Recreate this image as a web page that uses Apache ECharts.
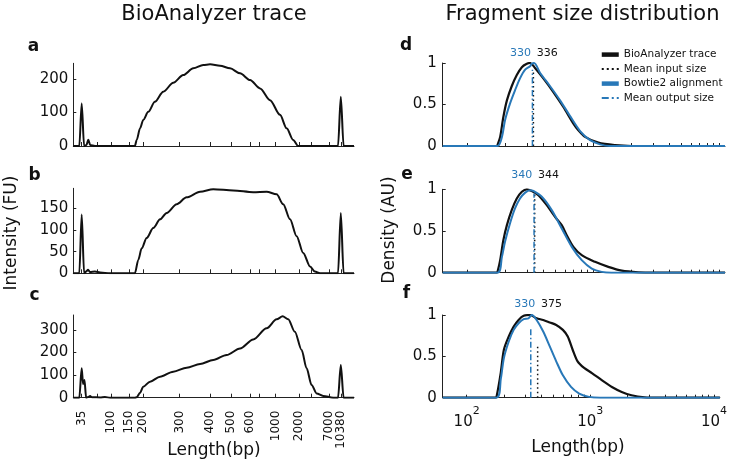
<!DOCTYPE html>
<html>
<head>
<meta charset="utf-8">
<script src="https://cdn.jsdelivr.net/npm/echarts@6/dist/echarts.min.js"></script>
<style>html,body{margin:0;padding:0;background:#fff}#c{width:730px;height:471px}</style>
</head>
<body>
<div id="c"></div>
<script>
// ---------------- DATA ----------------
// BioAnalyzer HS DNA ladder: fragment size (bp) and migration time (s)
const ladderSize = [35, 50, 100, 150, 200, 300, 400, 500, 600, 700, 1000, 2000, 3000, 7000, 10380];
const ladderTime = [42.1, 45.9, 49.4, 54.0, 57.4, 66.6, 74.2, 79.4, 84.2, 86.4, 90.6, 96.4, 99.6, 103.9, 106.9];
const labeledSizes = [35, 100, 150, 200, 300, 400, 500, 600, 1000, 2000, 7000, 10380];

// BioAnalyzer traces: [migration time (s), intensity (FU)]
const traceA = [[40.0,0],[41.5,0],[42.1,127],[42.7,0],[43.3,3],[43.75,19],[44.2,3],[45.4,0],[55.4,0],[55.85,18],[56.7,53],[57.5,78],[58.75,102],[60.4,132],[62.5,162],[65.0,189],[67.5,212],[70.0,232],[72.5,242],[74.2,244],[76.7,240],[79.2,232],[81.7,217],[84.2,197],[86.7,172],[89.2,137],[91.7,93],[93.35,53],[95.0,18],[96.25,0],[106.2,0],[106.9,147],[107.6,0],[110.2,0]];
const traceB = [[40.0,0],[41.5,0],[42.1,136],[42.7,0],[43.2,4],[43.7,8],[44.2,3],[45.4,4],[46.7,2],[49.2,0],[55.4,0],[56.25,31],[57.1,58],[58.35,82],[60.0,105],[61.7,125],[63.35,140],[65.85,160],[68.35,176],[71.7,189],[75.0,195],[80.0,192],[85.0,188],[88.35,189],[90.85,183],[92.5,160],[94.2,125],[95.85,86],[97.5,47],[99.2,16],[100.4,4],[101.7,0],[106.2,0],[106.9,140],[107.6,0],[110.2,0]];
const traceC = [[40.0,0],[41.5,0],[42.1,130],[42.45,60],[42.8,78],[43.2,0],[43.7,3],[44.2,7],[44.7,2],[46.7,1],[47.9,3],[49.2,0],[55.4,0],[55.85,2],[56.7,22],[57.5,49],[59.2,71],[61.7,93],[65.0,115],[68.35,133],[71.7,149],[75.0,167],[78.35,189],[81.7,218],[85.0,258],[88.35,307],[90.85,347],[92.35,360],[93.75,347],[95.4,292],[97.1,211],[98.35,130],[99.6,56],[100.85,19],[102.5,8],[105.0,0],[106.2,0],[106.9,145],[107.6,0],[110.2,0]];

// Fragment size densities: [length (bp), density (AU)]
const inputD = [[64,0],[172,0],[175,0.02],[183,0.11],[194,0.35],[207,0.55],[226,0.72],[248,0.855],[272,0.95],[298,0.99],[316,1.0],[346,0.94],[403,0.815],[484,0.65],[581,0.47],[698,0.27],[764,0.19],[864,0.11],[1102,0.04],[1495,0.01],[2029,0],[11160,0]];
const outputD = [[64,0],[174,0],[189,0.11],[200,0.31],[219,0.51],[240,0.67],[263,0.815],[289,0.92],[316,0.96],[326,0.99],[340,1.0],[380,0.88],[456,0.72],[547,0.55],[657,0.36],[789,0.18],[947,0.07],[1136,0.02],[1364,0],[11160,0]];
const inputE = [[64,0],[172,0],[175,0.02],[183,0.15],[194,0.39],[207,0.57],[226,0.75],[248,0.89],[272,0.97],[298,1.0],[326,0.98],[368,0.93],[429,0.81],[499,0.67],[564,0.57],[618,0.45],[698,0.31],[813,0.21],[1037,0.13],[1322,0.07],[1690,0.025],[2288,0.005],[3000,0],[11160,0]];
const outputE = [[64,0],[174,0],[189,0.19],[200,0.37],[219,0.59],[240,0.77],[263,0.89],[289,0.96],[316,0.99],[336,0.98],[392,0.91],[470,0.75],[564,0.53],[678,0.31],[813,0.15],[977,0.05],[1172,0.01],[1400,0],[11160,0]];
const inputF = [[64,0],[172,0],[175,0.02],[189,0.31],[200,0.58],[219,0.74],[240,0.86],[263,0.94],[289,0.99],[326,1.0],[368,0.96],[416,0.94],[470,0.91],[530,0.88],[600,0.82],[657,0.74],[720,0.58],[789,0.44],[891,0.36],[1037,0.295],[1245,0.21],[1495,0.13],[1795,0.07],[2154,0.03],[2748,0.005],[3500,0],[11160,0]];
const outputF = [[64,0],[174,0],[189,0.23],[200,0.48],[219,0.68],[240,0.82],[263,0.90],[289,0.95],[316,0.96],[336,1.0],[368,0.94],[416,0.8],[470,0.62],[530,0.44],[600,0.27],[698,0.13],[813,0.05],[977,0.01],[1200,0],[11160,0]];

const meanInput = [336, 344, 375];
const meanOutput = [330, 340, 330];
const meanInputTop = [0.92, 0.95, 0.62];
const meanOutputTop = [0.92, 0.95, 0.84];

const yTicksLeft = [[0,100,200],[0,50,100,150],[0,100,200,300]];
const yMaxLeft = [247, 197, 366];
const yTicksRight = [0, 0.5, 1];
const logTicks = [100,200,300,400,500,600,700,800,900,1000,2000,3000,4000,5000,6000,7000,8000,9000,10000];
const logLabels = [100, 1000, 10000];
const panelLetters = ['a','b','c','d','e','f'];
const titles = ['BioAnalyzer trace', 'Fragment size distribution'];
const legendNames = ['BioAnalyzer trace', 'Mean input size', 'Bowtie2 alignment', 'Mean output size'];

// ---------------- STYLE / LAYOUT ----------------
const FONT = 'DejaVu Sans';
const BLACK = '#111111';
const BLUE = '#2878b8';
const AX = '#222222';
const leftGrids = [{top:63.3,h:82.7},{top:188.3,h:85},{top:315,h:82.7}];
const rightGrids = [{top:63,h:83},{top:189.3,h:83.4},{top:315,h:82.7}];
const meanLabelY = [53, 175.3, 304];

const traces = [traceA, traceB, traceC];
const inputs = [inputD, inputE, inputF];
const outputs = [outputD, outputE, outputF];
const labeledTimes = labeledSizes.map(s => ladderTime[ladderSize.indexOf(s)]);

const grid = [], xAxis = [], yAxis = [], series = [];
leftGrids.forEach(g => grid.push({left:73.3, width:280.7, top:g.top, height:g.h}));
rightGrids.forEach(g => grid.push({left:442.7, width:282.3, top:g.top, height:g.h}));

const axLine = {show:true, onZero:false, lineStyle:{color:AX, width:1}};
const labelBase = {fontFamily:FONT, color:BLACK, showMinLabel:true, showMaxLabel:true, hideOverlap:false};

for (let i = 0; i < 3; i++) {
  xAxis.push({
    type:'value', gridIndex:i, min:40, max:110.2,
    axisLine:axLine,
    axisTick:{show:true, inside:true, length:4, customValues:ladderTime, lineStyle:{color:AX, width:1}},
    axisLabel:Object.assign({}, labelBase, {
      show: i === 2, customValues: labeledTimes, rotate:90, margin:13, fontSize:12,
      formatter: v => {
        const k = ladderTime.findIndex(t => Math.abs(t - v) < 1e-6);
        return k >= 0 ? String(ladderSize[k]) : '';
      }
    }),
    splitLine:{show:false}
  });
  yAxis.push({
    type:'value', gridIndex:i, min:0, max:yMaxLeft[i],
    axisLine:axLine,
    axisTick:{show:true, inside:true, length:3, customValues:yTicksLeft[i], lineStyle:{color:AX}},
    axisLabel:Object.assign({}, labelBase, {customValues:yTicksLeft[i], fontSize:15, margin:5}),
    splitLine:{show:false}
  });
}
for (let i = 0; i < 3; i++) {
  xAxis.push({
    type:'log', logBase:10, gridIndex:3+i, min:64, max:11160,
    axisLine:axLine,
    axisTick:{show:true, inside:true, length:3, customValues:logTicks, lineStyle:{color:AX, width:1}},
    axisLabel:Object.assign({}, labelBase, {
      show: i === 2, customValues: logLabels, margin:8,
      formatter: v => '{b|10}{s|' + Math.round(Math.log10(v)) + '}',
      rich:{
        b:{fontFamily:FONT, fontSize:15, color:BLACK, verticalAlign:'bottom', lineHeight:24},
        s:{fontFamily:FONT, fontSize:11, color:BLACK, verticalAlign:'top', lineHeight:24}
      }
    }),
    splitLine:{show:false}
  });
  yAxis.push({
    type:'value', gridIndex:3+i, min:0, max:1,
    axisLine:axLine,
    axisTick:{show:true, inside:true, length:3, customValues:yTicksRight, lineStyle:{color:AX}},
    axisLabel:Object.assign({}, labelBase, {customValues:yTicksRight, fontSize:15, margin:6}),
    splitLine:{show:false}
  });
}

for (let i = 0; i < 3; i++) {
  series.push({
    type:'line', name:'BioAnalyzer trace', xAxisIndex:i, yAxisIndex:i, data:traces[i],
    symbol:'none', smooth:0.3, smoothMonotone:'x',
    lineStyle:{color:BLACK, width:2}, itemStyle:{color:BLACK}, z:3
  });
}
for (let i = 0; i < 3; i++) {
  const xi = 3 + i;
  series.push({
    type:'line', name:'BioAnalyzer trace', xAxisIndex:xi, yAxisIndex:xi, data:inputs[i],
    symbol:'none', smooth:0.3, lineStyle:{color:BLACK, width:2.2}, itemStyle:{color:BLACK}, z:3
  });
  series.push({
    type:'line', name:'Bowtie2 alignment', xAxisIndex:xi, yAxisIndex:xi, data:outputs[i],
    symbol:'none', smooth:0.3, lineStyle:{color:BLUE, width:2}, itemStyle:{color:BLUE}, z:4
  });
  series.push({
    type:'line', name:'Mean input size', xAxisIndex:xi, yAxisIndex:xi,
    data:[[meanInput[i],0],[meanInput[i],meanInputTop[i]]],
    symbol:'none', lineStyle:{color:BLACK, width:1.5, type:[1.5,3]}, itemStyle:{color:BLACK}, z:5
  });
  series.push({
    type:'line', name:'Mean output size', xAxisIndex:xi, yAxisIndex:xi,
    data:[[meanOutput[i],0],[meanOutput[i],meanOutputTop[i]]],
    symbol:'none', lineStyle:{color:BLUE, width:1.5, type:[6,2.5,1.5,2.5]}, itemStyle:{color:BLUE}, z:5
  });
}

const legendStyles = {
  'BioAnalyzer trace': {lineStyle:{color:BLACK, width:4.5, type:'solid'}},
  'Mean input size': {lineStyle:{color:BLACK, width:2, type:[2,3]}},
  'Bowtie2 alignment': {lineStyle:{color:BLUE, width:4.5, type:'solid'}},
  'Mean output size': {lineStyle:{color:BLUE, width:2, type:[7,3,2,3]}}
};

const chart = echarts.init(document.getElementById('c'), null, {renderer:'canvas'});
chart.setOption({
  animation:false,
  backgroundColor:'#ffffff',
  grid, xAxis, yAxis, series,
  legend:{
    orient:'vertical', left:599.5, top:49, padding:0, itemWidth:17, itemHeight:14, itemGap:3.3,
    selectedMode:false,
    textStyle:{fontFamily:FONT, fontSize:10.5, color:BLACK},
    data: legendNames.map(n => Object.assign({name:n, itemStyle:{opacity:0}}, legendStyles[n]))
  }
});

function txt(x, y, text, o) {
  o = o || {};
  return {
    type:'text', x:x, y:y, rotation:o.rot || 0, silent:true, z:10,
    style:{
      text:text, fill:o.color || BLACK,
      fontFamily:FONT, fontSize:o.size || 15, fontWeight:o.weight || 'normal',
      align:o.align || 'center', verticalAlign:'middle',
      textAlign:o.align || 'center', textVerticalAlign:'middle'
    }
  };
}

const g = [];
g.push(txt(214, 15, titles[0], {size:21}));
g.push(txt(582.5, 15, titles[1], {size:21}));
const letterPos = [[33.5,46.5],[34.5,175.5],[34.5,296],[406,45.5],[407,175],[406.5,294]];
panelLetters.forEach((l, k) => g.push(txt(letterPos[k][0], letterPos[k][1], l, {size:17, weight:'bold'})));
g.push(txt(12, 233, 'Intensity (FU)', {size:17, rot:Math.PI/2}));
g.push(txt(390, 230, 'Density (AU)', {size:17, rot:Math.PI/2}));
g.push(txt(214, 451, 'Length(bp)', {size:17}));
g.push(txt(578, 448, 'Length(bp)', {size:17}));
for (let i = 0; i < 3; i++) {
  const px = chart.convertToPixel({xAxisIndex:3+i}, meanInput[i]);
  g.push(txt(px - 2.4, meanLabelY[i], String(meanOutput[i]), {size:11, color:BLUE, align:'right'}));
  g.push(txt(px + 3.3, meanLabelY[i], String(meanInput[i]), {size:11, color:BLACK, align:'left'}));
}
chart.setOption({graphic:{elements:g}});
</script>
</body>
</html>
